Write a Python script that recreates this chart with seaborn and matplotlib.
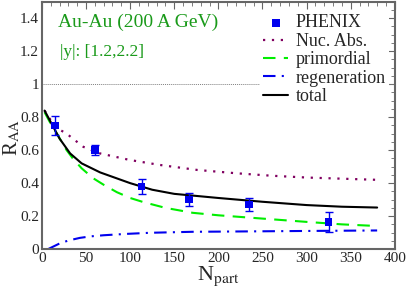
import numpy as np
import pandas as pd
import matplotlib
matplotlib.use('Agg')
import matplotlib.pyplot as plt
import seaborn as sns
from matplotlib.ticker import MultipleLocator, FuncFormatter

# PHENIX data points
phenix_npart = [15, 60, 113, 167, 235, 325]
phenix_raa = [0.75, 0.60, 0.38, 0.30, 0.27, 0.165]
phenix_err = [0.06, 0.03, 0.045, 0.04, 0.04, 0.06]

# model curves
nuc_x = [3, 15, 28, 47, 66, 100, 134, 176, 220, 260, 300, 340, 380]
nuc_y = [0.84, 0.74, 0.70, 0.62, 0.58, 0.54, 0.51, 0.48, 0.46, 0.445, 0.434, 0.427, 0.42]

prim_x = [3, 10, 17, 28, 35, 45, 58, 70, 85, 100, 115, 140, 171, 200, 250, 300, 340, 380]
prim_y = [0.83, 0.76, 0.70, 0.60, 0.55, 0.49, 0.43, 0.39, 0.345, 0.31, 0.285, 0.25, 0.22, 0.205, 0.185, 0.165, 0.15, 0.14]

regen_x = [7, 20, 30, 43, 55, 70, 95, 123, 171, 200, 250, 300, 380]
regen_y = [0.0, 0.034, 0.052, 0.068, 0.077, 0.084, 0.092, 0.099, 0.105, 0.106, 0.108, 0.11, 0.113]

total_x = [3, 10, 20, 32, 45, 66, 100, 125, 150, 200, 250, 300, 340, 380]
total_y = [0.84, 0.77, 0.67, 0.58, 0.52, 0.465, 0.40, 0.36, 0.335, 0.31, 0.287, 0.267, 0.257, 0.252]

sns.set_style('white')
plt.rcParams['font.family'] = ['Liberation Serif', 'DejaVu Serif']
plt.rcParams['mathtext.fontset'] = 'stix'

fig = plt.figure(figsize=(4.07, 2.91), dpi=100)
ax = fig.add_axes([0.103, 0.144, 0.867, 0.85])

ax.axhline(1.0, color='gray', linestyle=(0, (1, 1)), linewidth=0.7, zorder=1)

sns.lineplot(x=nuc_x, y=nuc_y, ax=ax, color='#800060', linestyle=(0, (1, 3)),
             linewidth=1.6, label='Nuc. Abs.')
sns.lineplot(x=prim_x, y=prim_y, ax=ax, color='#00ee00', linestyle=(0, (6, 4)),
             linewidth=1.5, label='primordial')
sns.lineplot(x=regen_x, y=regen_y, ax=ax, color='#0000ee', linestyle=(0, (6, 3, 1, 3)),
             linewidth=1.5, label='regeneration')
sns.lineplot(x=total_x, y=total_y, ax=ax, color='black', linewidth=1.5, label='total')

ax.errorbar(phenix_npart, phenix_raa, yerr=phenix_err, fmt='none', ecolor='#0000ee',
            elinewidth=1.0, capsize=3, capthick=1.0, zorder=4)
sns.scatterplot(x=phenix_npart, y=phenix_raa, ax=ax, marker='s', color='#0000ee',
                s=30, edgecolor='none', label='PHENIX', zorder=5)

ax.set_xlim(0, 400)
ax.set_ylim(0, 1.5)
ax.xaxis.set_major_locator(MultipleLocator(50))
ax.xaxis.set_minor_locator(MultipleLocator(10))
ax.yaxis.set_major_locator(MultipleLocator(0.2))
ax.yaxis.set_minor_locator(MultipleLocator(0.05))
ax.yaxis.set_major_formatter(FuncFormatter(lambda v, p: f'{v:g}'))
ax.tick_params(which='both', direction='in', top=True, right=True, labelsize=11,
               color='#666666', pad=2)
ax.tick_params(which='major', length=5)
ax.tick_params(which='minor', length=3)
for sp in ax.spines.values():
    sp.set_color('#666666')
    sp.set_linewidth(1.5)

ax.set_xlabel(r'N$_{\mathrm{part}}$', fontsize=16, labelpad=0)
ax.set_ylabel(r'R$_{\mathrm{AA}}$', fontsize=15, labelpad=0)
ax.yaxis.set_label_coords(-0.057, 0.45)

ax.text(0.045, 0.95, 'Au-Au (200 A GeV)', transform=ax.transAxes, color='#1a9a1a',
        fontsize=14, va='top')
ax.text(0.05, 0.83, '|y|: [1.2,2.2]', transform=ax.transAxes, color='#1a9a1a',
        fontsize=12.5, va='top')

handles, labels = ax.get_legend_handles_labels()
order = [labels.index(n) for n in ['PHENIX', 'Nuc. Abs.', 'primordial', 'regeneration', 'total']]
leg = ax.legend([handles[i] for i in order], [labels[i] for i in order],
                loc='upper right', bbox_to_anchor=(1.0, 0.985), frameon=True,
                fontsize=13, handlelength=1.4, handletextpad=0.4, labelspacing=0.08,
                borderpad=0.2, borderaxespad=0.3)
leg.get_frame().set_edgecolor('none')
leg.get_frame().set_facecolor('white')
leg.get_frame().set_alpha(1.0)

fig.savefig('out.png', dpi=100)
